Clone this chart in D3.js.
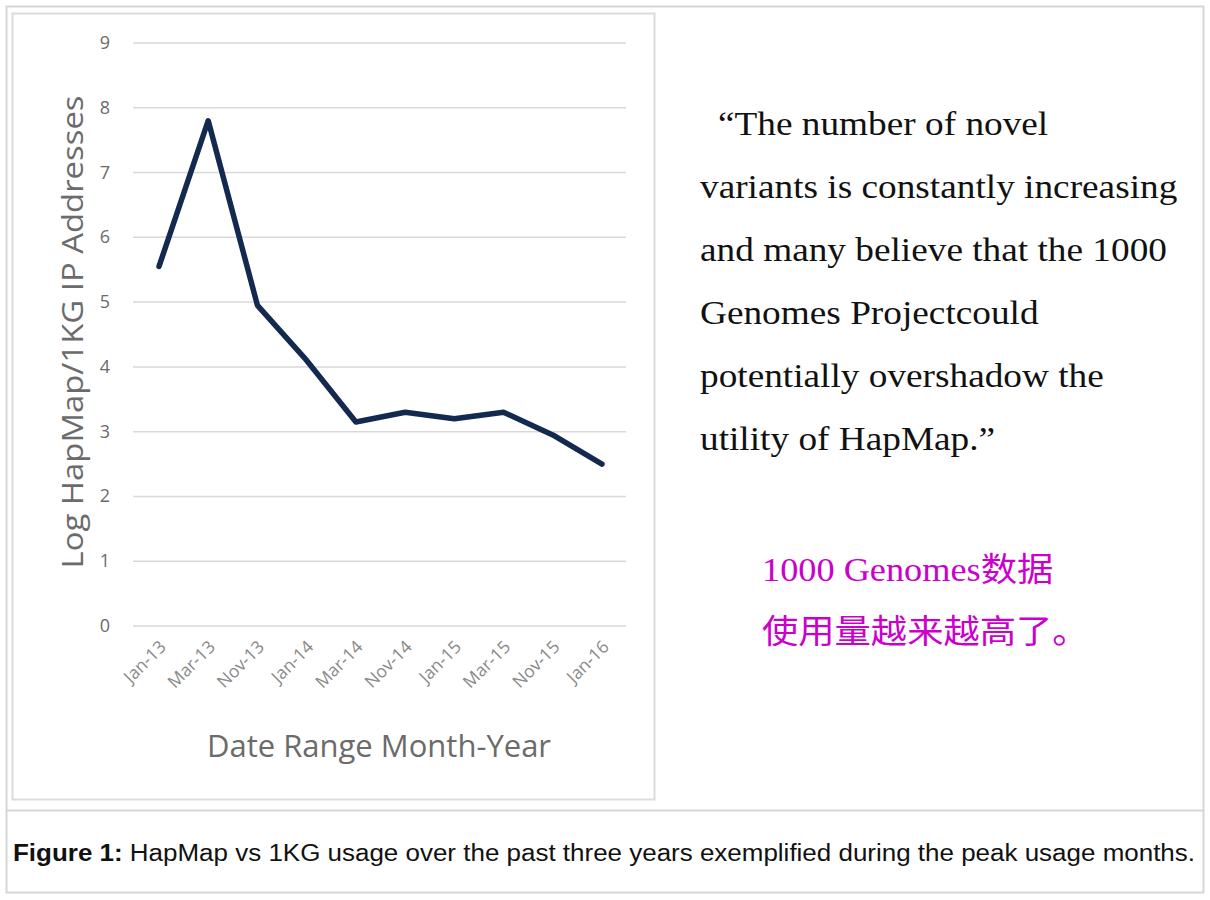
<!DOCTYPE html>
<html><head><meta charset="utf-8">
<script src="https://cdn.jsdelivr.net/npm/d3@7"></script>
<style>body{margin:0;background:#fff}</style>
</head><body>
<svg id="c" width="1210" height="900"></svg>
<script>
// 数据
const months = ["Jan-13","Mar-13","Nov-13","Jan-14","Mar-14","Nov-14","Jan-15","Mar-15","Nov-15","Jan-16"];
const logRatio = [5.55,7.8,4.95,4.1,3.15,3.3,3.2,3.3,2.95,2.5];
const yTicks = [0,1,2,3,4,5,6,7,8,9];
const quoteLines = ["\u201cThe number of novel","variants is constantly increasing","and many believe that the 1000","Genomes Projectcould","potentially overshadow the","utility of HapMap.\u201d"];
const noteLines = ["1000 Genomes数据","使用量越来越高了。"];

const svg = d3.select("#c");

// 外框
svg.append("rect").attr("x",6.5).attr("y",6.5).attr("width",1197).attr("height",886)
  .attr("fill","none").attr("stroke","#d6d6d6").attr("stroke-width",2);
svg.append("line").attr("x1",6).attr("x2",1204).attr("y1",810.5).attr("y2",810.5)
  .attr("stroke","#d6d6d6").attr("stroke-width",2);
svg.append("rect").attr("x",12.5).attr("y",13.5).attr("width",642).attr("height",786)
  .attr("fill","none").attr("stroke","#dcdcdc").attr("stroke-width",2);

// 比例尺
const x = d3.scalePoint().domain(months).range([159,602]);
const y = d3.scaleLinear().domain([0,9]).range([626,43]);

// 网格
svg.append("g").selectAll("line").data(yTicks).join("line")
  .attr("x1",133).attr("x2",626).attr("y1",d=>y(d)).attr("y2",d=>y(d))
  .attr("stroke","#d9d9d9").attr("stroke-width",1.5);

svg.append("g").selectAll("text").data(yTicks).join("text")
  .attr("x",110).attr("y",d=>y(d)+6).attr("text-anchor","end")
  .attr("font-family","Open Sans, sans-serif").attr("font-size",18).attr("fill","#6b6b6b")
  .text(d=>d);

svg.append("g").selectAll("text").data(months).join("text")
  .attr("transform",d=>`translate(${x(d)+8},${648}) rotate(-45)`)
  .attr("text-anchor","end")
  .attr("font-family","Open Sans, sans-serif").attr("font-size",17.5).attr("fill","#8a8a8a")
  .text(d=>d);

// 坐标轴标题
svg.append("text").attr("x",379).attr("y",757).attr("text-anchor","middle")
  .attr("font-family","Open Sans, sans-serif").attr("font-size",31).attr("fill","#6b6b6b")
  .text("Date Range Month-Year");
svg.append("text").attr("transform","translate(83,332) rotate(-90)").attr("text-anchor","middle")
  .attr("font-family","Open Sans, sans-serif").attr("font-size",29).attr("fill","#6b6b6b")
  .attr("textLength",473).attr("lengthAdjust","spacingAndGlyphs")
  .text("Log HapMap/1KG IP Addresses");

// 折线
const line = d3.line().x((d,i)=>x(months[i])).y(d=>y(d));
svg.append("path").datum(logRatio).attr("d",line)
  .attr("fill","none").attr("stroke","#13294f").attr("stroke-width",5.5)
  .attr("stroke-linejoin","round").attr("stroke-linecap","round");

// 引文（横向拉宽以贴合原图字体）
svg.append("g").attr("transform","translate(700,0) scale(1.13,1)")
  .selectAll("text").data(quoteLines).join("text")
  .attr("x",(d,i)=>i===0?18/1.13:0).attr("y",(d,i)=>135+i*63)
  .attr("font-family","Liberation Serif, DejaVu Serif, serif").attr("font-size",33).attr("fill","#111")
  .text(d=>d);

svg.append("g").attr("transform","translate(762,0) scale(1.1,1)")
  .selectAll("text").data(noteLines).join("text")
  .attr("x",0).attr("y",(d,i)=>581+i*62)
  .attr("font-family","Liberation Serif, Noto Sans CJK SC, serif").attr("font-size",33).attr("fill","#cc00cc")
  .text(d=>d);

// 图注
const cap = svg.append("text").attr("x",13).attr("y",861)
  .attr("font-family","Liberation Sans, Arial, sans-serif").attr("font-size",23).attr("fill","#111")
  .attr("textLength",1182).attr("lengthAdjust","spacingAndGlyphs");
cap.append("tspan").attr("font-weight","bold").text("Figure 1:");
cap.append("tspan").text(" HapMap vs 1KG usage over the past three years exemplified during the peak usage months.");
</script>
</body></html>
